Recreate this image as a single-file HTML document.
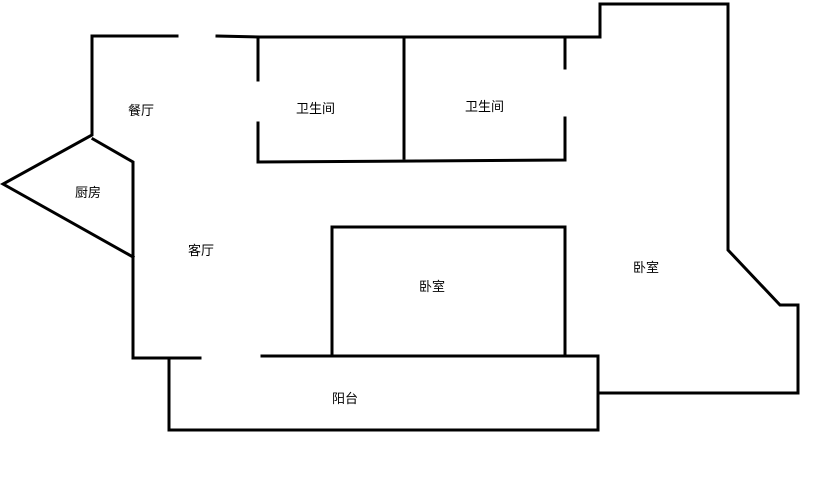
<!DOCTYPE html>
<html><head><meta charset="utf-8"><style>
html,body{margin:0;padding:0;background:#fff;width:813px;height:504px;overflow:hidden}
text{font-family:"Liberation Sans","Noto Sans CJK SC",sans-serif;font-size:13px;fill:#000}
</style></head><body>
<svg width="813" height="504" viewBox="0 0 813 504" xmlns="http://www.w3.org/2000/svg">
<g stroke="#000" stroke-width="3" fill="none" stroke-linecap="square">
<polyline points="177,36 92,36 92,135 3,184 133,257"/>
<polyline points="93,139 133,162 133,358 200,358"/>
<line x1="217" y1="36" x2="258" y2="37"/>
<polyline points="258,37 600,37 600,4 728,4 728,250 780,305 798,305 798,393 598,393"/>
<line x1="258" y1="37" x2="258" y2="80"/>
<polyline points="258,123 258,162 565,160 565,118"/>
<line x1="565" y1="37" x2="565" y2="68"/>
<line x1="404" y1="40" x2="404" y2="158"/>
<polyline points="332,356 332,227 565,227 565,356"/>
<line x1="262" y1="356" x2="598" y2="356"/>
<polyline points="169,358 169,430 598,430 598,358"/>
</g>
<text x="128" y="115">餐厅</text>
<text x="296" y="113">卫生间</text>
<text x="465" y="111">卫生间</text>
<text x="75" y="197">厨房</text>
<text x="188" y="255">客厅</text>
<text x="419" y="291">卧室</text>
<text x="633" y="272">卧室</text>
<text x="332" y="403">阳台</text>
</svg>
</body></html>
